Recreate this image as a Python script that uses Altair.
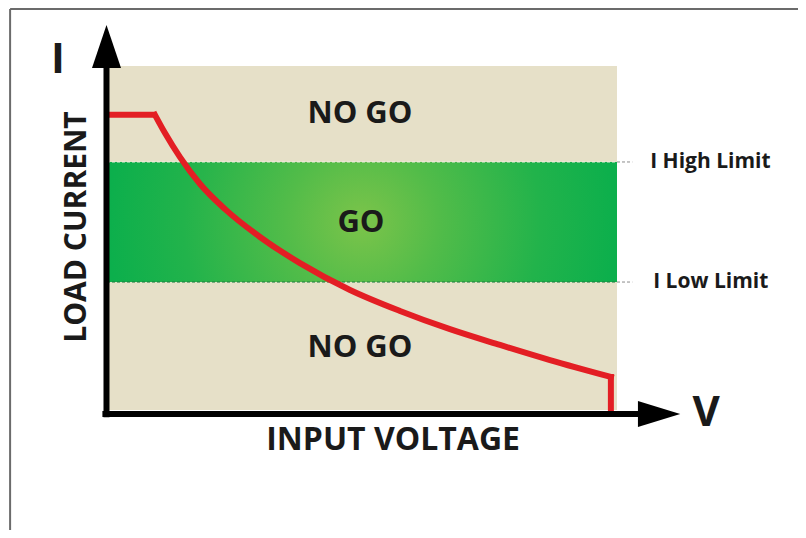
import altair as alt
import pandas as pd

# ---- data (voltage 0..100 across the shaded box, current 0..100 up the box) ----
flat_v = [0, 9.4]
flat_i = [85.8, 85.8]
curve_v = [9.4, 11.37, 14.31, 18.24, 23.14, 30.0, 37.84, 47.65, 57.45, 67.25, 77.06, 86.86, 98.8]
curve_i = [85.8, 80.5, 73.5, 65.7, 58.4, 50.3, 42.7, 34.9, 28.8, 23.5, 18.9, 14.5, 9.6]
drop_v = [98.8, 98.8]
drop_i = [9.6, 0]

i_low_limit = 37.2
i_high_limit = 72.1

zone_labels = ["NO GO", "GO", "NO GO"]
zone_v = [49.6, 49.8, 49.6]
zone_i = [86.0, 54.4, 18.0]

limit_labels = ["I High Limit", "I Low Limit"]
limit_v = [106.5, 107.1]
limit_i = [i_high_limit, i_low_limit]

FONT = "Open Sans"
W, H = 790, 522

xs = alt.Scale(domain=[0, 100], range=[99, 609])
ys = alt.Scale(domain=[0, 100], range=[402, 58])


def X(f="v"):
    return alt.X(f"{f}:Q", scale=xs, axis=None)


def Y(f="i"):
    return alt.Y(f"{f}:Q", scale=ys, axis=None)


# background box
box = alt.Chart(pd.DataFrame({"v": [0], "v2": [100], "i": [0], "i2": [100]})).mark_rect(
    color="#e6e0c8"
).encode(x=X(), x2="v2:Q", y=Y(), y2="i2:Q")

# green GO band with radial glow
band = alt.Chart(pd.DataFrame({"v": [0], "v2": [100], "i": [i_low_limit], "i2": [i_high_limit]})).mark_rect(
    color={
        "gradient": "radial",
        "stops": [
            {"offset": 0, "color": "#7cc44a"},
            {"offset": 0.3, "color": "#52bc49"},
            {"offset": 0.7, "color": "#22b34b"},
            {"offset": 1, "color": "#0caf4c"},
        ],
        "x1": 0.5, "y1": 0.5, "r1": 0,
        "x2": 0.5, "y2": 0.5, "r2": 0.5,
    }
).encode(x=X(), x2="v2:Q", y=Y(), y2="i2:Q")

# dashed limit lines
lim_df = pd.DataFrame({
    "v": [0, 100, 0, 100],
    "v2": [100, 103, 100, 103],
    "i": [i_high_limit, i_high_limit, i_low_limit, i_low_limit],
    "c": ["#f2efe2", "#8c8c8c", "#1d7a3e", "#8c8c8c"],
})
limits = alt.Chart(lim_df).mark_rule(strokeDash=[3, 2], strokeWidth=1).encode(
    x=X(), x2="v2:Q", y=Y(), color=alt.Color("c:N", scale=None)
)

RED = "#e31e24"

# red characteristic curve: flat part, smooth fall-off, vertical drop
flat = alt.Chart(pd.DataFrame({"v": flat_v, "i": flat_i})).mark_line(
    color=RED, strokeWidth=6, strokeCap="butt"
).encode(x=X(), y=Y())
curve_df = pd.DataFrame({"v": curve_v, "i": curve_i})
curve = alt.Chart(curve_df).mark_line(
    color=RED, strokeWidth=6, strokeCap="square", interpolate="monotone"
).encode(x=X(), y=Y())
drop = alt.Chart(pd.DataFrame({"v": drop_v, "i": drop_i, "o": [0, 1]})).mark_line(
    color=RED, strokeWidth=6, strokeCap="square"
).encode(x=X(), y=Y(), order="o:Q")

# axes shafts
shaft_df = pd.DataFrame({
    "v": [-0.1, -0.9], "v2": [-0.1, 104.2],
    "i": [-2.1, -1.16], "i2": [99.6, -1.16],
})
shafts = alt.Chart(shaft_df).mark_rule(color="#000000", strokeWidth=6).encode(
    x=X(), x2="v2:Q", y=Y(), y2="i2:Q"
)

# arrow heads
head_up = alt.Chart(pd.DataFrame({"i": [99.4, 111.9], "v": [-2.94, -0.1], "v2": [2.75, -0.1]})).mark_area(
    orient="horizontal", color="#000000"
).encode(y=Y(), x=X(), x2="v2:Q")
head_right = alt.Chart(pd.DataFrame({"v": [104.1, 112.4], "i": [-4.94, -1.16], "i2": [2.62, -1.16]})).mark_area(
    orient="vertical", color="#000000"
).encode(x=X(), y=Y(), y2="i2:Q")

# picture frame (top and left edge)
frame_df = pd.DataFrame({"v": [-19.0, -19.0], "v2": [137.0, -19.0], "i": [116.6, 116.6], "i2": [116.6, -37.2]})
frame = alt.Chart(frame_df).mark_rule(color="#6b6b6b", strokeWidth=2).encode(
    x=X(), x2="v2:Q", y=Y(), y2="i2:Q"
)


def text_layer(labels, vs, is_, size, align="center", angle=0, color="#1a1a1a"):
    df = pd.DataFrame({"label": labels, "v": vs, "i": is_})
    return alt.Chart(df).mark_text(
        font=FONT, fontWeight="bold", fontSize=size, color=color,
        align=align, baseline="middle", angle=angle,
    ).encode(x=X(), y=Y(), text="label:N")


zones = text_layer(zone_labels, zone_v, zone_i, 31)
lims_txt = text_layer(limit_labels, limit_v, limit_i, 21, align="left")
ylab = text_layer(["LOAD CURRENT"], [-5.9], [53.2], 30, angle=270)
xlab = text_layer(["INPUT VOLTAGE"], [56.1], [-8.7], 32)
i_sym = text_layer(["I"], [-9.6], [101.7], 42)
v_sym = text_layer(["V"], [117.5], [-0.9], 42)

chart = alt.layer(
    frame, box, band, limits, flat, curve, drop, shafts, head_up, head_right,
    zones, lims_txt, ylab, xlab, i_sym, v_sym,
).properties(
    width=W, height=H, autosize=alt.AutoSizeParams(type="none"), padding=0,
    background="#ffffff",
).configure_view(stroke=None)

chart.save("out.html", embed_options={"renderer": "svg", "actions": False})
